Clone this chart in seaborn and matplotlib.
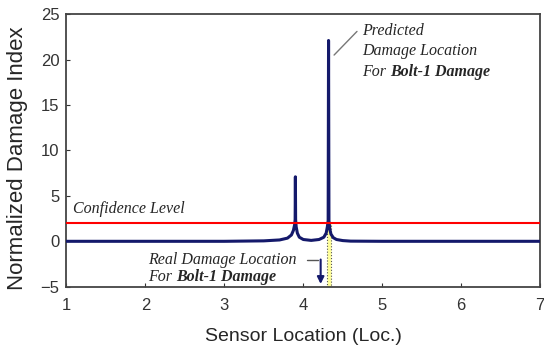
import numpy as np
import pandas as pd
import matplotlib
matplotlib.use("Agg")
import matplotlib.pyplot as plt
import seaborn as sns

# damage index along the sensor path
sensor_loc = [1.0, 2.0, 3.0, 3.5, 3.7, 3.8, 3.85, 3.875, 3.89, 3.897, 3.90, 3.903, 3.91,
              3.925, 3.95, 4.0, 4.1, 4.2, 4.26, 4.29, 4.305, 4.315, 4.32, 4.325,
              4.335, 4.35, 4.38, 4.42, 4.5, 4.6, 5.0, 6.0, 7.0]
damage_idx = [0.0, 0.0, 0.0, 0.05, 0.15, 0.35, 0.7, 1.2, 1.8, 2.4, 7.1, 2.4, 1.6,
              0.9, 0.45, 0.2, 0.1, 0.2, 0.45, 0.9, 1.6, 2.3, 22.1, 2.3,
              1.4, 0.8, 0.4, 0.2, 0.08, 0.02, 0.0, 0.0, 0.0]
confidence_level = 2.0
real_loc = 4.22
pred_loc = 4.325

df = pd.DataFrame({"loc": sensor_loc, "di": damage_idx})

sns.set_style("ticks")
plt.rcParams["font.family"] = ["Liberation Sans", "DejaVu Sans"]
fig, ax = plt.subplots(figsize=(5.44, 3.54), dpi=100)
fig.subplots_adjust(left=0.122, right=0.993, top=0.96, bottom=0.19)

# predicted location marker box
ax.axvspan(pred_loc - 0.03, pred_loc + 0.03, ymin=0, ymax=(confidence_level + 5) / 30,
           facecolor="#ffff99", edgecolor="#555555", linestyle=":", lw=0.8, zorder=1)
sns.lineplot(data=df, x="loc", y="di", color="#14196b", lw=2.2, ax=ax, zorder=3)
ax.axhline(confidence_level, color="#ff0000", lw=1.5, zorder=4)

ax.set_xlim(1, 7)
ax.set_ylim(-5, 25)
ax.set_xticks(range(1, 8))
ax.set_yticks(range(-5, 26, 5))
ax.tick_params(direction="in", length=3, labelsize=12, colors="#333333")
ax.tick_params(axis="x", pad=8)
ax.tick_params(axis="y", pad=5)
ax.set_xlabel("Sensor Location (Loc.)", fontsize=14)
ax.set_ylabel("Normalized Damage Index", fontsize=16)
ax.xaxis.set_label_coords(0.5, -0.152)
ax.yaxis.set_label_coords(-0.08, 0.47)
for s in ax.spines.values():
    s.set_color("#444444")
    s.set_linewidth(1.3)

serif = dict(family=["Liberation Serif", "DejaVu Serif"], style="italic", fontsize=11.5)

ax.text(1.09, 3.6, "Confidence Level", va="center", **serif)

ax.plot([4.39, 4.68], [20.5, 23.1], color="#777777", lw=1)
ax.text(4.75, 23.1, "Predicted", va="center", **serif)
ax.text(4.75, 20.9, "Damage Location", va="center", **serif)
t1 = ax.text(4.75, 18.6, "For ", va="center", **serif)
ax.annotate("Bolt-1 Damage", xy=(1, 0), xycoords=t1, va="bottom", weight="bold", **serif)

ax.text(2.04, -2.1, "Real Damage Location", va="center", **serif)
ax.plot([4.05, 4.19], [-2.1, -2.1], color="#555555", lw=1)
t2 = ax.text(2.04, -3.95, "For ", va="center", **serif)
ax.annotate("Bolt-1 Damage", xy=(1, 0), xycoords=t2, va="bottom", weight="bold", **serif)
ax.annotate("", xy=(real_loc, -5), xytext=(real_loc, -1.7),
            arrowprops=dict(arrowstyle="-|>", color="#14196b", lw=1.5), zorder=5)

fig.savefig("out.png", dpi=100)
